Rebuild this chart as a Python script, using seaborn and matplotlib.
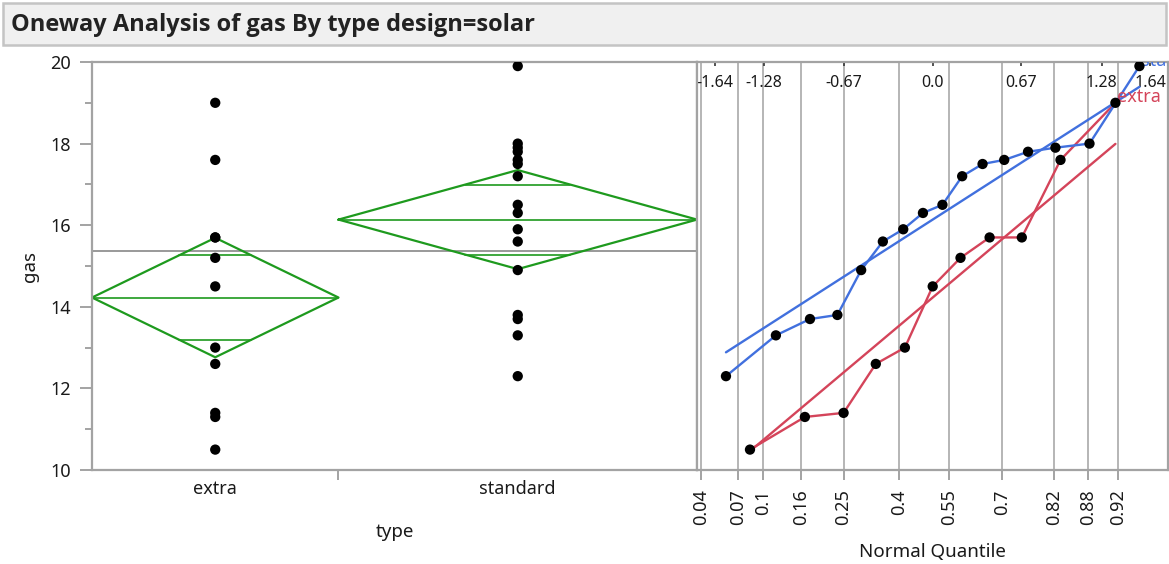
import numpy as np
import pandas as pd
import matplotlib
matplotlib.use("Agg")
import matplotlib.pyplot as plt
from matplotlib.patches import Rectangle
import seaborn as sns
from statistics import NormalDist

sns.set_style("white")
plt.rcParams['font.family'] = ['Noto Sans', 'DejaVu Sans']

# data
groups = ["extra", "standard"]
extra_gas = [10.5, 11.3, 11.4, 12.6, 13.0, 14.5, 15.2, 15.7, 15.7, 17.6, 19.0]
standard_gas = [12.3, 13.3, 13.7, 13.8, 14.9, 15.6, 15.9, 16.3, 16.5, 17.2,
                17.5, 17.6, 17.8, 17.9, 18.0, 19.9]
prob_ticks = [0.04, 0.07, 0.1, 0.16, 0.25, 0.4, 0.55, 0.7, 0.82, 0.88, 0.92]
prob_labels = ["0.04", "0.07", "0.1", "0.16", "0.25", "0.4", "0.55", "0.7",
               "0.82", "0.88", "0.92"]
z_ticks = [-1.645, -1.28, -0.67, 0.0, 0.67, 1.28, 1.645]
z_labels = ["-1.64", "-1.28", "-0.67", "0.0", "0.67", "1.28", "1.64"]
t_crit = 2.0595  # t(0.975, 25 df)

colors = {"extra": "#d4445a", "standard": "#4170de"}
green = "#1e9a1e"
gray = "#a3a3a3"
txt = "#1a1a1a"

df = pd.concat([
    pd.DataFrame({"type": "extra", "gas": extra_gas}),
    pd.DataFrame({"type": "standard", "gas": standard_gas}),
], ignore_index=True)

# group stats
stats = df.groupby("type")["gas"].agg(["mean", "count", "var"]).loc[groups]
stats["start"] = stats["count"].cumsum() - stats["count"]
stats["end"] = stats["count"].cumsum()
stats["center"] = (stats["start"] + stats["end"]) / 2
pooled_sd = np.sqrt(((stats["count"] - 1) * stats["var"]).sum() / (stats["count"].sum() - len(groups)))
stats["ci"] = t_crit * pooled_sd / np.sqrt(stats["count"])
grand_mean = df["gas"].mean()
df["xpos"] = df["type"].map(stats["center"])

# normal quantiles for the QQ panel
nd = NormalDist()
qq = []
for g in groups:
    vals = np.sort(df.loc[df["type"] == g, "gas"].values)
    n = len(vals)
    z = [nd.inv_cdf(i / (n + 1)) for i in range(1, n + 1)]
    qq.append(pd.DataFrame({"type": g, "z": z, "gas": vals}))
qq = pd.concat(qq, ignore_index=True)

fig = plt.figure(figsize=(11.69, 5.64), dpi=100)
W, H = 1169, 564
bot, top = 470, 62
ax1 = fig.add_axes([92 / W, (H - bot) / H, (697 - 92) / W, (bot - top) / H])
ax2 = fig.add_axes([697 / W, (H - bot) / H, (1168 - 697) / W, (bot - top) / H], sharey=ax1)

# title bar
fig.patches.append(Rectangle((3 / W, 1 - 45 / H), (1166 - 3) / W, 42 / H,
                             transform=fig.transFigure, facecolor="#f0f0f0",
                             edgecolor="#c4c4c4", lw=1.8))
fig.text(11 / W, 1 - 25 / H, "Oneway Analysis of gas By type design=solar",
         fontsize=17, fontweight="bold", color="#222222", va="center",
         family=["Open Sans", "DejaVu Sans"])

# left: oneway plot
ax1.axhline(grand_mean, color="#999999", lw=1.4, zorder=1)
for g in groups:
    s = stats.loc[g]
    l, r, c, m, ci = s["start"], s["end"], s["center"], s["mean"], s["ci"]
    ax1.plot([l, c, r, c, l], [m, m + ci, m, m - ci, m], color=green, lw=1.6, zorder=2)
    ax1.plot([l, r], [m, m], color=green, lw=1.2, zorder=2)
    hw = (r - l) / 2 * (1 - 1 / np.sqrt(2))
    for sign in (1, -1):
        ax1.plot([c - hw, c + hw], [m + sign * ci / np.sqrt(2)] * 2, color=green, lw=1.2, zorder=2)
sns.scatterplot(data=df, x="xpos", y="gas", color="black", s=55, edgecolor="none",
                ax=ax1, legend=False, zorder=3)

ax1.set_xlim(0, stats["count"].sum())
ax1.set_ylim(10, 20)
ax1.set_yticks(range(10, 21, 2))
ax1.set_yticks(range(11, 20, 2), minor=True)
ax1.set_xticks(stats["end"].values[:-1])
ax1.set_xticklabels([])
ax1.set_xticks(stats["center"].values, minor=True)
ax1.set_xticklabels(groups, minor=True)
ax1.tick_params(axis="y", which="major", length=9, width=1.4, color=gray,
                labelsize=13, labelcolor=txt, pad=6, left=True)
ax1.tick_params(axis="y", which="minor", length=5, width=1.4, color=gray, left=True)
ax1.tick_params(axis="x", which="major", length=7, width=1.4, color=gray, bottom=True)
ax1.tick_params(axis="x", which="minor", length=0, labelsize=13, labelcolor=txt, pad=7)
ax1.set_xlabel("type", fontsize=13.5, color=txt, labelpad=18)
ax1.set_ylabel("gas", fontsize=13.5, color=txt, labelpad=8)

# right: normal quantile plot
for p in prob_ticks:
    ax2.axvline(nd.inv_cdf(p), color="#b5b5b5", lw=1.4, zorder=0)
sns.lineplot(data=qq, x="z", y="gas", hue="type", palette=colors, sort=False,
             estimator=None, lw=1.7, ax=ax2, legend=False, zorder=2)
for g in groups:
    sub = qq[qq["type"] == g]
    s = stats.loc[g]
    zz = np.array([sub["z"].min(), sub["z"].max()])
    ax2.plot(zz, s["mean"] + np.sqrt(s["var"]) * zz, color=colors[g], lw=1.7, zorder=2)
    ax2.text(sub["z"].max() + 0.01, sub["gas"].max() + 0.13, g, color=colors[g],
             fontsize=13, va="center", ha="left", clip_on=True)
sns.scatterplot(data=qq, x="z", y="gas", color="black", s=55, edgecolor="none",
                ax=ax2, legend=False, zorder=3)

ax2.set_xlim(-1.784, 1.781)
ax2.set_xticks([nd.inv_cdf(p) for p in prob_ticks])
ax2.set_xticklabels(prob_labels, rotation=90)
ax2.tick_params(axis="x", length=7, width=1.4, color=gray, labelsize=13,
                labelcolor=txt, pad=7, bottom=True)
ax2.tick_params(axis="y", left=False, labelleft=False)
ax2.set_xlabel("Normal Quantile", fontsize=13.5, color=txt, labelpad=13)
ax2.set_ylabel("")

sec = ax2.secondary_xaxis("top")
sec.set_xticks(z_ticks)
sec.set_xticklabels(z_labels)
sec.tick_params(direction="in", length=3, width=1.2, color="#333333",
                labelsize=11.5, labelcolor=txt, pad=-21)
for sp in sec.spines.values():
    sp.set_visible(False)

for ax in (ax1, ax2):
    for sp in ax.spines.values():
        sp.set_visible(True)
        sp.set_color(gray)
        sp.set_linewidth(1.6)

fig.savefig("out.png", dpi=100)
